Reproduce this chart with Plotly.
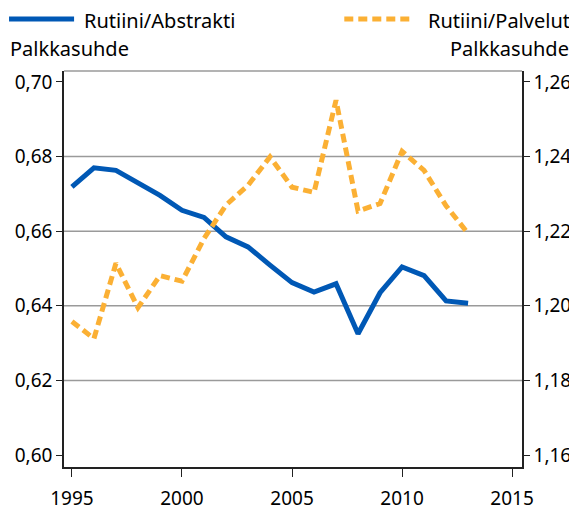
import plotly.graph_objects as go

years = list(range(1995, 2014))
abstrakti = [0.6719, 0.6770, 0.6763, 0.6728, 0.6696, 0.6656, 0.6637, 0.6585,
             0.6558, 0.6509, 0.6462, 0.6437, 0.6459, 0.6325, 0.6435, 0.6504,
             0.6481, 0.6413, 0.6407]
palvelut = [1.1958, 1.1912, 1.2114, 1.1995, 1.2081, 1.2066, 1.2180, 1.2270,
            1.2323, 1.2399, 1.2318, 1.2304, 1.2551, 1.2254, 1.2274, 1.2414,
            1.2363, 1.2268, 1.2194]

left_ticks = [0.60, 0.62, 0.64, 0.66, 0.68, 0.70]
right_ticks = [1.16, 1.18, 1.20, 1.22, 1.24, 1.26]
grid_values = [0.62, 0.64, 0.66, 0.68]
x_ticks = [1995, 2000, 2005, 2010, 2015]

BLUE = "#0058B5"
ORANGE = "#FBB034"
FONT = "Noto Sans"
DASH = "9px,5px"

fig = go.Figure()
fig.add_trace(go.Scatter(
    x=years, y=abstrakti, name="Rutiini/Abstrakti", mode="lines",
    line=dict(color=BLUE, width=5), yaxis="y"
))
fig.add_trace(go.Scatter(
    x=years, y=palvelut, name="Rutiini/Palvelut", mode="lines",
    line=dict(color=ORANGE, width=5, dash=DASH), yaxis="y2"
))

# gridlines only at inner ticks, plus grey top border
for g in grid_values:
    fig.add_shape(type="line", xref="paper", x0=0, x1=1, yref="y", y0=g, y1=g,
                  line=dict(color="#9a9a9a", width=1.5), layer="below")
fig.add_shape(type="line", xref="paper", x0=0, x1=1, yref="paper", y0=1, y1=1,
              line=dict(color="#9a9a9a", width=1.5))

# legend drawn above the plot, two entries on one row
fig.add_shape(type="line", xref="paper", yref="paper", x0=-0.12, x1=0.022,
              y0=1.131, y1=1.131, line=dict(color=BLUE, width=5))
fig.add_shape(type="line", xref="paper", yref="paper", x0=0.612, x1=0.76,
              y0=1.131, y1=1.131, line=dict(color=ORANGE, width=5, dash=DASH))

texts = [
    ("Rutiini/Abstrakti", 0.041, 1.1263, "left"),
    ("Rutiini/Palvelut", 1.107, 1.1263, "right"),
    ("Palkkasuhde", -0.12, 1.058, "left"),
    ("Palkkasuhde", 1.105, 1.058, "right"),
]
for txt, x, y, anchor in texts:
    fig.add_annotation(text=txt, xref="paper", yref="paper", x=x, y=y,
                       xanchor=anchor, yanchor="middle", showarrow=False,
                       borderpad=0,
                       font=dict(size=20, color="black", family=FONT))

# page body adds an 8px margin, so the figure is sized 8px smaller
fig.update_layout(
    width=569, height=503,
    margin=dict(l=56, r=55, t=63, b=44, autoexpand=False),
    plot_bgcolor="white", paper_bgcolor="white",
    separators=", ",
    font=dict(family=FONT, size=19, color="black"),
    showlegend=False,
    xaxis=dict(range=[1994.64, 2015.45], tickvals=x_ticks, showgrid=False,
               zeroline=False, showline=True, linecolor="#222", linewidth=1.5,
               ticks="outside", ticklen=8, tickcolor="#222",
               ticklabelstandoff=5, tickfont=dict(size=19)),
    yaxis=dict(range=[0.59679, 0.70294], tickvals=left_ticks, tickformat=".2f",
               showgrid=False, zeroline=False, showline=True, linecolor="#222",
               linewidth=1.5, ticks="outside", ticklen=6, tickcolor="#222"),
    yaxis2=dict(range=[1.15679, 1.26294], tickvals=right_ticks, tickformat=".2f",
                overlaying="y", side="right", showgrid=False, zeroline=False,
                showline=True, linecolor="#222", linewidth=1.5,
                ticks="outside", ticklen=6, tickcolor="#222"),
)

fig.write_html("out.html")
